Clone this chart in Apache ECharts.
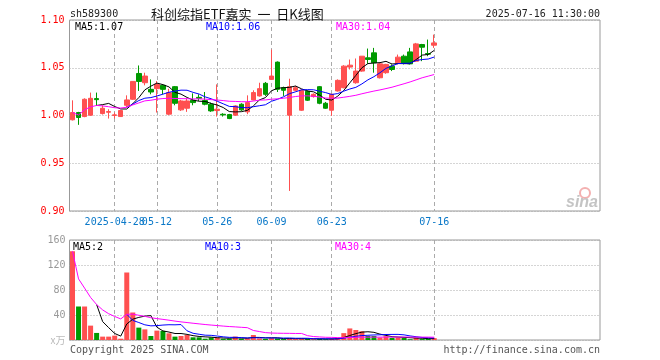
<!DOCTYPE html>
<html><head><meta charset="utf-8">
<script src="https://cdn.jsdelivr.net/npm/echarts@6/dist/echarts.min.js"></script>
<style>html,body{margin:0;padding:0;background:#fff}#c{width:660px;height:360px}</style>
</head><body><div id="c"></div>
<script>
const dates = ['2025-04-17','2025-04-18','2025-04-21','2025-04-22','2025-04-23','2025-04-24','2025-04-25','2025-04-28','2025-04-29','2025-04-30',
'2025-05-06','2025-05-07','2025-05-08','2025-05-09','2025-05-12','2025-05-13','2025-05-14','2025-05-15','2025-05-16','2025-05-19',
'2025-05-20','2025-05-21','2025-05-22','2025-05-23','2025-05-26','2025-05-27','2025-05-28','2025-05-29','2025-05-30','2025-06-03',
'2025-06-04','2025-06-05','2025-06-06','2025-06-09','2025-06-10','2025-06-11','2025-06-12','2025-06-13','2025-06-16','2025-06-17',
'2025-06-18','2025-06-19','2025-06-20','2025-06-23','2025-06-24','2025-06-25','2025-06-26','2025-06-27','2025-06-30','2025-07-01',
'2025-07-02','2025-07-03','2025-07-04','2025-07-07','2025-07-08','2025-07-09','2025-07-10','2025-07-11','2025-07-14','2025-07-15','2025-07-16'];
const opens = [0.9955,1.0031,0.9989,1.0003,1.0177,1.0020,1.0034,1.0000,0.9989,1.0107,
1.0170,1.0440,1.0343,1.0274,1.0281,1.0316,1.0014,1.0302,1.0059,1.0076,
1.0159,1.0190,1.0156,1.0118,1.0052,1.0013,1.0010,1.0003,1.0118,1.0038,
1.0163,1.0205,1.0337,1.0378,1.0559,1.0291,1.0003,1.0264,1.0055,1.0253,
1.0198,1.0302,1.0128,1.0055,1.0257,1.0291,1.0507,1.0343,1.0465,1.0604,
1.0656,1.0395,1.0448,1.0517,1.0552,1.0621,1.0666,1.0569,1.0743,1.0649,1.0736];
const closes = [1.0031,0.9979,1.0170,1.0180,1.0166,1.0076,1.0041,1.0007,1.0052,1.0163,
1.0357,1.0357,1.0413,1.0246,1.0326,1.0274,1.0239,1.0128,1.0152,1.0152,
1.0135,1.0180,1.0118,1.0048,1.0066,1.0006,0.9968,1.0100,1.0059,1.0135,
1.0240,1.0281,1.0222,1.0413,1.0274,1.0264,1.0302,1.0291,1.0264,1.0160,
1.0222,1.0128,1.0076,1.0222,1.0368,1.0517,1.0527,1.0465,1.0621,1.0587,
1.0552,1.0541,1.0535,1.0482,1.0611,1.0545,1.0541,1.0750,1.0715,1.0642,1.0760];
const lows = [0.9948,0.9902,0.9982,0.9996,1.0100,1.0010,0.9968,0.9968,0.9986,1.0083,
1.0163,1.0257,1.0316,1.0222,1.0031,1.0222,1.0003,1.0107,1.0048,1.0038,
1.0107,1.0152,1.0107,1.0038,0.9989,0.9989,0.9962,0.9996,1.0048,1.0014,
1.0159,1.0198,1.0205,1.0372,1.0246,1.0205,0.9210,1.0253,1.0048,1.0152,
1.0187,1.0118,1.0069,0.9996,1.0250,1.0284,1.0482,1.0333,1.0458,1.0541,
1.0448,1.0388,1.0437,1.0465,1.0535,1.0535,1.0535,1.0562,1.0569,1.0621,1.0708];
const highs = [1.0159,1.0038,1.0180,1.0240,1.0240,1.0107,1.0066,1.0031,1.0059,1.0211,
1.0357,1.0524,1.0448,1.0378,1.0360,1.0326,1.0280,1.0309,1.0163,1.0177,
1.0232,1.0222,1.0246,1.0135,1.0326,1.0024,1.0017,1.0107,1.0128,1.0211,
1.0264,1.0343,1.0351,1.0690,1.0566,1.0302,1.0385,1.0310,1.0274,1.0264,
1.0232,1.0309,1.0142,1.0229,1.0378,1.0527,1.0586,1.0597,1.0621,1.0701,
1.0708,1.0552,1.0541,1.0535,1.0638,1.0638,1.0708,1.0760,1.0750,1.0795,1.0847];
const volumes = [142,53.6,53.6,23,11.3,5.4,5.4,7,2.1,108,
44,19.8,17,6.4,15,14.5,10.7,5.4,6.4,8,
4.3,4.3,2.1,4.0,3.8,2.0,2.2,5.5,2.2,2.5,
8.0,2.5,1.8,2.8,2.5,1.5,2.5,1.5,2.5,1.8,
1.2,1.8,1.2,2.0,3.5,11,18.5,16,14,6.5,
6.5,4,6,3.5,4,3.5,1.2,3.5,1.5,1.6,3.0];
const tickDates = ['2025-04-28','2025-05-12','2025-05-26','2025-06-09','2025-06-23','2025-07-16'];
const tickLabels = ['2025-04-28','05-12','05-26','06-09','06-23','07-16'];
const TOTAL_SLOTS = 88;

const RED = '#ff5050', GREEN = '#009a00';
const cats = dates.slice();
for (let i = dates.length; i < TOTAL_SLOTS; i++) cats.push('pad' + i);
const labelMap = {};
tickDates.forEach((d, i) => labelMap[d] = tickLabels[i]);
const tickIdx = new Set(tickDates.map(d => cats.indexOf(d)));
const firstTick = cats.indexOf(tickDates[0]);
const kdata = dates.map((d, i) => [opens[i], closes[i], lows[i], highs[i]]);
function ma(arr, n, cumulative) {
  return arr.map((v, i) => {
    if (i < n - 1) {
      if (!cumulative) return '-';
      let s = 0; for (let j = 0; j <= i; j++) s += arr[j]; return s / (i + 1);
    }
    let s = 0; for (let j = i - n + 1; j <= i; j++) s += arr[j]; return s / n;
  });
}
const pma5 = ma(closes, 5), pma10 = ma(closes, 10), pma30 = ma(closes, 30, true);
const vma5 = ma(volumes, 5), vma10 = ma(volumes, 10), vma30 = ma(volumes, 30, true);
const last = a => a[a.length - 1];
const vbars = volumes.map((v, i) => ({value: v, itemStyle: {color: closes[i] >= opens[i] ? RED : GREEN}}));

const MONO = 'DejaVu Sans Mono';
const splitX = {show: true, interval: (i) => tickIdx.has(i), alignWithLabel: true, lineStyle: {color: '#aaa', type: [4, 3], width: 1}};
const xLabelStyle = {formatter: (v) => labelMap[v] || '', color: '#0a78c8', fontFamily: MONO, fontSize: 10, margin: 6, hideOverlap: false};
const txt = (x, y, s, color, align, extra) => Object.assign({type: 'text', x: x, y: y, style: {text: s, fill: color, font: '10px "' + MONO + '"', textAlign: align || 'left', textVerticalAlign: 'middle'}, z: 100}, extra || {});

const chart = echarts.init(document.getElementById('c'));
chart.setOption({
  animation: false,
  backgroundColor: '#fff',
  grid: [
    {left: 69.5, top: 20, width: 530.5, height: 191, show: true, borderColor: '#999', borderWidth: 1, backgroundColor: 'transparent'},
    {left: 69.5, top: 240, width: 530.5, height: 100, show: true, borderColor: '#999', borderWidth: 1, backgroundColor: 'transparent'}
  ],
  xAxis: [
    {type: 'category', gridIndex: 0, data: cats, boundaryGap: true, position: 'bottom', axisLine: {show: false}, axisTick: {show: false},
     axisLabel: Object.assign({interval: (i) => tickIdx.has(i) && i !== firstTick}, xLabelStyle),
     splitLine: splitX},
    {type: 'category', gridIndex: 1, data: cats, boundaryGap: true, axisLine: {show: false}, axisTick: {show: false},
     axisLabel: {show: false}, splitLine: splitX},
    {type: 'category', gridIndex: 0, data: cats, boundaryGap: true, position: 'bottom', offset: 0, axisLine: {show: false}, axisTick: {show: false},
     axisLabel: Object.assign({interval: (i) => i === firstTick}, xLabelStyle),
     splitLine: {show: false}}
  ],
  yAxis: [
    {type: 'value', gridIndex: 0, min: 0.9, max: 1.1, interval: 0.05, axisLine: {show: false}, axisTick: {show: false},
     axisLabel: {color: '#ff0000', formatter: (v) => v.toFixed(2), fontFamily: MONO, fontSize: 10, margin: 5},
     splitLine: {show: true, lineStyle: {color: '#aaa', type: [1, 2]}}},
    {type: 'value', gridIndex: 1, min: 0, max: 160, interval: 40, axisLine: {show: false}, axisTick: {show: false},
     axisLabel: {color: '#999', fontFamily: MONO, fontSize: 10, margin: 4,
       formatter: (v) => v === 0 ? '{u|x万}' : String(v),
       rich: {u: {color: '#bbb', fontSize: 10, fontFamily: 'Noto Sans CJK SC'}}},
     splitLine: {show: true, lineStyle: {color: '#aaa', type: [1, 2]}}}
  ],
  series: [
    {type: 'candlestick', xAxisIndex: 0, yAxisIndex: 0, data: kdata, barWidth: 5,
     itemStyle: {color: RED, color0: GREEN, borderColor: RED, borderColor0: GREEN, borderWidth: 1}},
    {type: 'line', xAxisIndex: 0, yAxisIndex: 0, data: pma5, showSymbol: false, lineStyle: {color: '#000', width: 1}, z: 5},
    {type: 'line', xAxisIndex: 0, yAxisIndex: 0, data: pma10, showSymbol: false, lineStyle: {color: '#0000ff', width: 1}, z: 5},
    {type: 'line', xAxisIndex: 0, yAxisIndex: 0, data: pma30, showSymbol: false, lineStyle: {color: '#ff00ff', width: 1}, z: 5},
    {type: 'bar', xAxisIndex: 1, yAxisIndex: 1, data: vbars, barWidth: 5},
    {type: 'line', xAxisIndex: 1, yAxisIndex: 1, data: vma5, showSymbol: false, lineStyle: {color: '#000', width: 1}, z: 5},
    {type: 'line', xAxisIndex: 1, yAxisIndex: 1, data: vma10, showSymbol: false, lineStyle: {color: '#0000ff', width: 1}, z: 5},
    {type: 'line', xAxisIndex: 1, yAxisIndex: 1, data: vma30, showSymbol: false, lineStyle: {color: '#ff00ff', width: 1}, z: 5}
  ],
  graphic: [
    txt(70, 14, 'sh589300', '#222'),
    {type: 'text', x: 151, y: 14, z: 100, style: {text: '科创综指ETF嘉实  一  日K线图', fill: '#111', font: '13px "Noto Sans CJK SC"', textVerticalAlign: 'middle'}},
    txt(600, 14, '2025-07-16 11:30:00', '#222', 'right'),
    txt(75, 27, 'MA5:' + last(pma5).toFixed(2), '#000'),
    txt(206, 27, 'MA10:' + last(pma10).toFixed(2), '#0000ff'),
    txt(336, 27, 'MA30:' + last(pma30).toFixed(2), '#ff00ff'),
    txt(73, 247, 'MA5:' + Math.round(last(vma5)), '#000'),
    txt(205, 247, 'MA10:' + Math.round(last(vma10)), '#0000ff'),
    txt(335, 247, 'MA30:' + Math.round(last(vma30)), '#ff00ff'),
    txt(70, 350, 'Copyright 2025 SINA.COM', '#555'),
    txt(600, 350, 'http://finance.sina.com.cn', '#555', 'right'),
    {type: 'circle', shape: {cx: 585, cy: 193, r: 5}, style: {fill: 'none', stroke: '#f3b0b0', lineWidth: 2}, z: 90},
    {type: 'text', x: 598, y: 203, z: 90, style: {text: 'sina', fill: '#c4c4c4', font: 'italic bold 16px "Liberation Sans"', textAlign: 'right', textVerticalAlign: 'middle'}}
  ]
});
</script></body></html>
